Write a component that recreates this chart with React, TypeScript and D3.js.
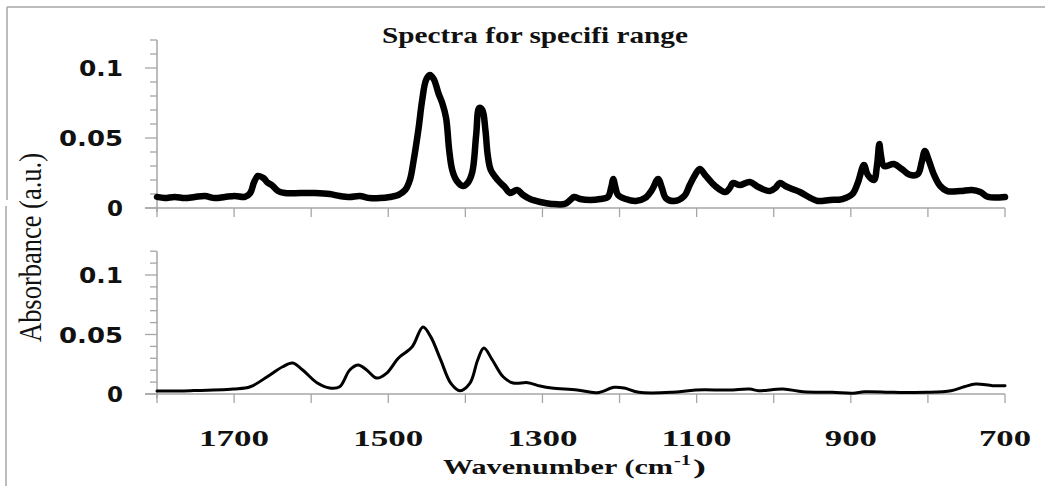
import React from "react";
import * as d3 from "d3";

const W = 1045;
const H = 486;

const chartTitle = "Spectra for specifi range";
const yAxisTitle = "Absorbance (a.u.)";

// Top spectrum (thick line)
const topWavenumber = [
  1800, 1790, 1777, 1764, 1751, 1738, 1725, 1712, 1699, 1686, 1679, 1674, 1669, 1662, 1656, 1651, 1643, 1634,
  1614, 1595, 1576, 1563, 1550, 1537, 1524, 1511, 1498, 1487, 1478, 1472, 1467, 1461, 1456, 1451, 1446, 1441,
  1435, 1430, 1425, 1421, 1417, 1411, 1403, 1397, 1391, 1386, 1382, 1378, 1374, 1371, 1367, 1358, 1349, 1342,
  1333, 1325, 1316, 1303, 1288, 1271, 1264, 1259, 1251, 1238, 1225, 1215, 1211, 1208, 1206, 1202, 1192, 1179,
  1167, 1158, 1150, 1145, 1140, 1129, 1116, 1109, 1102, 1096, 1088, 1076, 1063, 1057, 1053, 1044, 1031, 1020,
  1005, 998, 992, 985, 976, 966, 952, 943, 927, 911, 898, 891, 883, 878, 870, 866, 863, 861, 857, 844, 834, 823,
  813, 808, 804, 799, 792, 784, 775, 758, 743, 732, 722, 700,
];
const topAbsorbance = [
  0.0079, 0.0071, 0.0079, 0.0071, 0.0079, 0.0086, 0.0071, 0.0079, 0.0086, 0.0079, 0.0107, 0.0186, 0.0229, 0.0214,
  0.0179, 0.0164, 0.0121, 0.0107, 0.0107, 0.0107, 0.01, 0.0086, 0.0079, 0.0086, 0.0071, 0.0071, 0.0079, 0.0093,
  0.0129, 0.02, 0.0343, 0.0557, 0.0771, 0.0914, 0.095, 0.0921, 0.0821, 0.075, 0.0643, 0.0414, 0.0271, 0.0193,
  0.0157, 0.0179, 0.0257, 0.0521, 0.0714, 0.07, 0.0557, 0.0379, 0.0271, 0.02, 0.015, 0.0107, 0.0129, 0.0093,
  0.0064, 0.0043, 0.0029, 0.0029, 0.0057, 0.0079, 0.0064, 0.0057, 0.0064, 0.0079, 0.0143, 0.0207, 0.0164, 0.0093,
  0.0064, 0.005, 0.0071, 0.0129, 0.0207, 0.0143, 0.0071, 0.005, 0.0086, 0.0164, 0.0236, 0.0279, 0.0229, 0.0157,
  0.0114, 0.0143, 0.0179, 0.0164, 0.0186, 0.015, 0.0121, 0.0143, 0.0179, 0.0157, 0.0136, 0.0114, 0.0071, 0.005,
  0.0057, 0.0064, 0.01, 0.0179, 0.0307, 0.0236, 0.02, 0.0307, 0.0457, 0.0379, 0.03, 0.0314, 0.0279, 0.0236,
  0.0243, 0.0329, 0.0407, 0.0343, 0.0236, 0.0157, 0.0121, 0.0121, 0.0129, 0.0114, 0.0079, 0.0079,
];

// Bottom spectrum (thin line)
const bottomWavenumber = [
  1800, 1757, 1701, 1679, 1657, 1637, 1624, 1611, 1592, 1576, 1563, 1550, 1539, 1528, 1515, 1502, 1489, 1485,
  1469, 1455, 1445, 1432, 1419, 1407, 1394, 1384, 1376, 1365, 1351, 1338, 1319, 1303, 1288, 1255, 1229, 1207,
  1194, 1175, 1132, 1101, 1058, 1031, 1020, 988, 962, 924, 897, 882, 844, 801, 770, 753, 738, 716, 700,
];
const bottomAbsorbance = [
  0.0025, 0.0028, 0.0042, 0.0061, 0.0145, 0.0229, 0.026, 0.0202, 0.0092, 0.005, 0.0061, 0.0202, 0.0244, 0.0202,
  0.0134, 0.0176, 0.0286, 0.0313, 0.0397, 0.0563, 0.0482, 0.0286, 0.0092, 0.0028, 0.0092, 0.0286, 0.0387, 0.0286,
  0.0145, 0.0092, 0.0095, 0.0067, 0.005, 0.0034, 0.0011, 0.0056, 0.005, 0.0014, 0.0014, 0.0034, 0.0034, 0.0042,
  0.0028, 0.0042, 0.0019, 0.0014, 0.0006, 0.0019, 0.0014, 0.0014, 0.0028, 0.0061, 0.0084, 0.007, 0.007,
];

const xTickValues = [1800, 1700, 1600, 1500, 1400, 1300, 1200, 1100, 1000, 900, 800, 700];
const xTickLabels = ["1700", "1500", "1300", "1100", "900", "700"];
const yMajorTicks = [0, 0.05, 0.1];
const yMajorLabels = ["0", "0.05", "0.1"];
const yMinorTicks = [0.01, 0.02, 0.03, 0.04, 0.06, 0.07, 0.08, 0.09, 0.11, 0.12];

const AXIS = "#a6a6a6";

type Pt = [number, number];

function Panel({
  yScale,
  xScale,
  data,
  strokeWidth,
}: {
  yScale: d3.ScaleLinear<number, number>;
  xScale: d3.ScaleLinear<number, number>;
  data: Pt[];
  strokeWidth: number;
}) {
  const x0 = xScale.range()[0];
  const x1 = xScale.range()[1];
  const y0 = yScale(0);
  const yTop = yScale(0.12);
  const line = d3
    .line<Pt>()
    .x((d) => xScale(d[0]))
    .y((d) => yScale(d[1]))
    .curve(d3.curveCatmullRom.alpha(0.5));
  const labelWidths: Record<string, number> = { "0": 16, "0.05": 64, "0.1": 44 };
  return (
    <g>
      {/* y axis */}
      <line x1={x0} x2={x0} y1={yTop} y2={y0 + 4} stroke={AXIS} strokeWidth={1.5} />
      {yMinorTicks.map((t) => (
        <line key={"m" + t} x1={x0 - 7} x2={x0} y1={yScale(t)} y2={yScale(t)} stroke={AXIS} strokeWidth={1.3} />
      ))}
      {yMajorTicks.map((t, i) => (
        <g key={"M" + t}>
          <line x1={x0 - 12} x2={x0} y1={yScale(t)} y2={yScale(t)} stroke={AXIS} strokeWidth={1.3} />
          <text
            x={123 - labelWidths[yMajorLabels[i]]}
            y={yScale(t) + 8}
            fontFamily="'DejaVu Sans', Verdana, sans-serif"
            fontWeight="bold"
            fontSize={21}
            fill="#111"
            textLength={labelWidths[yMajorLabels[i]]}
            lengthAdjust="spacingAndGlyphs"
          >
            {yMajorLabels[i]}
          </text>
        </g>
      ))}
      {/* x axis */}
      <line x1={x0 - 12} x2={x1} y1={y0} y2={y0} stroke={AXIS} strokeWidth={1.5} />
      {xTickValues.map((t) => (
        <line key={"x" + t} x1={xScale(t)} x2={xScale(t)} y1={y0} y2={y0 + 9} stroke={AXIS} strokeWidth={1.3} />
      ))}
      <path
        d={line(data) || ""}
        fill="none"
        stroke="#000"
        strokeWidth={strokeWidth}
        strokeLinejoin="round"
        strokeLinecap="round"
      />
    </g>
  );
}

export default function App() {
  const xScale = d3.scaleLinear().domain([1800, 700]).range([157, 1005]);
  const yTopScale = d3.scaleLinear().domain([0, 0.12]).range([208, 40]);
  const yBotScale = d3.scaleLinear().domain([0, 0.12]).range([394, 394 - 0.12 * 1190]);

  const topData: Pt[] = topWavenumber.map((w, i) => [w, topAbsorbance[i]]);
  const botData: Pt[] = bottomWavenumber.map((w, i) => [w, bottomAbsorbance[i]]);

  return (
    <svg
      width={W}
      height={H}
      viewBox={`0 0 ${W} ${H}`}
      style={{ position: "absolute", left: 0, top: 0, background: "#fff" }}
    >
      <rect x={0} y={0} width={W} height={H} fill="#fff" />
      {/* frame */}
      <line x1={7} x2={W} y1={7} y2={7} stroke={AXIS} strokeWidth={1.5} />
      <line x1={7} x2={7} y1={7} y2={200} stroke={AXIS} strokeWidth={1.5} />
      <line x1={6} x2={6} y1={206} y2={H} stroke={AXIS} strokeWidth={1.5} />

      <text
        x={382}
        y={43}
        fontFamily="'Liberation Serif', 'Times New Roman', serif"
        fontWeight="bold"
        fontSize={23}
        fill="#111"
        textLength={306}
        lengthAdjust="spacingAndGlyphs"
      >
        {chartTitle}
      </text>

      <Panel yScale={yTopScale} xScale={xScale} data={topData} strokeWidth={6.5} />
      <Panel yScale={yBotScale} xScale={xScale} data={botData} strokeWidth={3} />

      {xTickLabels.map((l) => {
        const w = l.length === 4 ? 70 : 52;
        return (
          <text
            key={l}
            x={xScale(+l) - w / 2}
            y={446}
            fontFamily="'Liberation Serif', 'Times New Roman', serif"
            fontWeight="bold"
            fontSize={24}
            fill="#111"
            textLength={w}
            lengthAdjust="spacingAndGlyphs"
          >
            {l}
          </text>
        );
      })}

      {/* x axis title */}
      <text
        x={443}
        y={474}
        fontFamily="'Liberation Serif', 'Times New Roman', serif"
        fontWeight="bold"
        fontSize={22}
        fill="#111"
        textLength={230}
        lengthAdjust="spacingAndGlyphs"
      >
        Wavenumber (cm
      </text>
      <text
        x={674}
        y={465}
        fontFamily="'Liberation Serif', 'Times New Roman', serif"
        fontWeight="bold"
        fontSize={14}
        fill="#111"
        textLength={17}
        lengthAdjust="spacingAndGlyphs"
      >
        -1
      </text>
      <text
        x={693}
        y={474}
        fontFamily="'Liberation Serif', 'Times New Roman', serif"
        fontWeight="bold"
        fontSize={22}
        fill="#111"
        textLength={13}
        lengthAdjust="spacingAndGlyphs"
      >
        )
      </text>

      {/* y axis title */}
      <text
        transform="translate(41,342) scale(1.3,1) rotate(-90)"
        x={0}
        y={0}
        fontFamily="'Liberation Serif', 'Times New Roman', serif"
        fontSize={24}
        fill="#111"
        textLength={189}
        lengthAdjust="spacingAndGlyphs"
      >
        {yAxisTitle}
      </text>
    </svg>
  );
}
